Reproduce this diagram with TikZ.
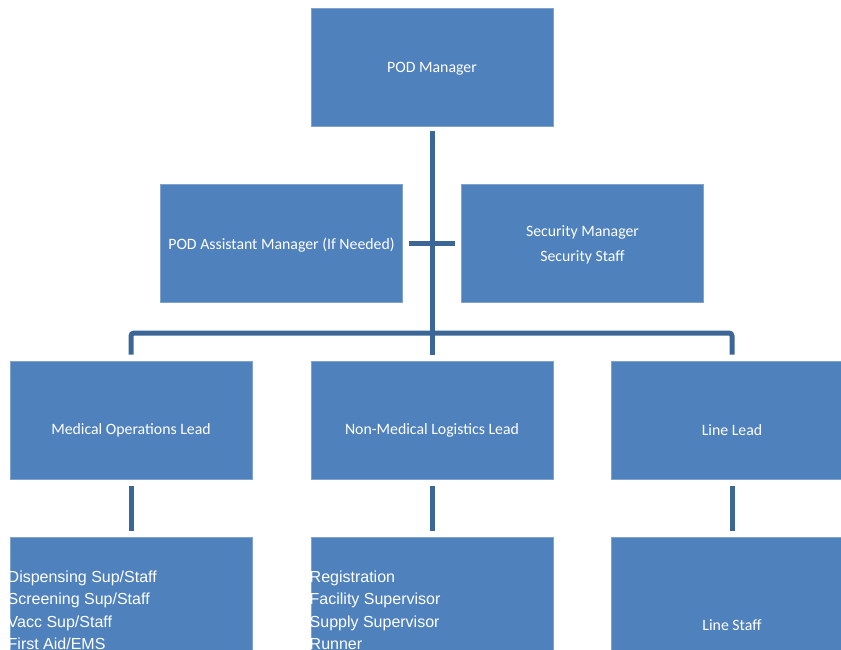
\documentclass[tikz,border=0pt]{standalone}
\usepackage{fontspec}
\setmainfont{Carlito}
\newfontfamily\arialfont{Liberation Sans}
\definecolor{boxblue}{HTML}{4F81BD}
\definecolor{boxedge}{HTML}{7FA3CF}
\definecolor{linkblue}{HTML}{3C6696}
\begin{document}
\begin{tikzpicture}[x=1pt,y=-1pt,
  orgbox/.style={draw=boxedge, line width=0.6pt, fill=boxblue,
    minimum width=242pt, minimum height=118pt, inner sep=0pt},
  boxtext/.style={text=white, align=center, inner sep=0pt,
    font=\fontsize{15.8}{25}\selectfont},
  listtext/.style={text=white, anchor=north west, align=left, inner sep=0pt,
    font=\arialfont\fontsize{16}{22.5}\selectfont},
  conn/.style={draw=linkblue, line width=5pt},
  connr/.style={conn, rounded corners=3pt}]
\useasboundingbox (0,0) rectangle (841,650);
\clip (0,0) rectangle (841,650);
% boxes
\node[orgbox] (mgr) at (432,67) {};
\node[orgbox] (asst) at (281.5,243) {};
\node[orgbox] (sec) at (582.5,243) {};
\node[orgbox] (med) at (131,420) {};
\node[orgbox] (log) at (432,420) {};
\node[orgbox] (line) at (732,420) {};
\node[orgbox, minimum height=172pt] (medstaff) at (131,623) {};
\node[orgbox, minimum height=172pt] (logstaff) at (432,623) {};
\node[orgbox, minimum height=172pt] (linestaff) at (732,623) {};
% box texts
\node[boxtext] (mgrt) at (432,69) {POD Manager};
\node[boxtext] (asstt) at (281.5,245) {POD Assistant Manager (If Needed)};
\node[boxtext] (sect) at (582.5,245) {Security Manager\\Security Staff};
\node[boxtext] (medt) at (131,430) {Medical Operations Lead};
\node[boxtext] (logt) at (432,430) {Non-Medical Logistics Lead};
\node[boxtext] (linet) at (732,430) {Line Lead};
\node[boxtext] (linestafft) at (732,625) {Line Staff};
% list texts
\node[listtext] (medlist) at (7.5,570.5) {Dispensing Sup/Staff\\Screening Sup/Staff\\Vacc Sup/Staff\\First Aid/EMS};
\node[listtext] (loglist) at (309.5,570.5) {Registration\\Facility Supervisor\\Supply Supervisor\\Runner};
% connectors
\coordinate (bus) at (432,333);
\coordinate (trunkend) at (432,355);
\draw[conn] ([yshift=-5pt]mgr.south) -- (trunkend);
\draw[conn] ([xshift=6pt]asst.east) -- ([xshift=-6pt]sec.west);
\draw[connr] ([yshift=6pt]med.north) |- (bus) -| ([yshift=6pt]line.north);
\draw[conn] ([yshift=-7pt]med.south) -- ([yshift=6pt]medstaff.north);
\draw[conn] ([yshift=-7pt]log.south) -- ([yshift=6pt]logstaff.north);
\draw[conn] ([yshift=-7pt]line.south) -- ([yshift=6pt]linestaff.north);
\end{tikzpicture}
\end{document}
